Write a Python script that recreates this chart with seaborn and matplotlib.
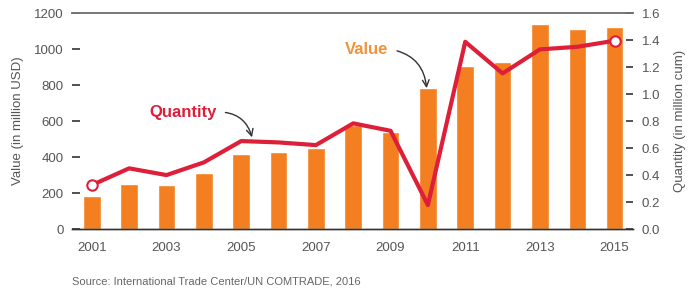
import numpy as np
import pandas as pd
import matplotlib
matplotlib.use("Agg")
import matplotlib.pyplot as plt
import seaborn as sns

years = [2001, 2002, 2003, 2004, 2005, 2006, 2007, 2008, 2009, 2010, 2011, 2012, 2013, 2014, 2015]
value_musd = [183, 250, 243, 309, 415, 430, 448, 578, 541, 785, 907, 926, 1139, 1113, 1124]
quantity_mcum = [0.326, 0.45, 0.40, 0.494, 0.652, 0.642, 0.622, 0.783, 0.728, 0.178, 1.387, 1.153, 1.331, 1.35, 1.395]
left_ticks = [0, 200, 400, 600, 800, 1000, 1200]
right_ticks = [0.0, 0.2, 0.4, 0.6, 0.8, 1.0, 1.2, 1.4, 1.6]
label_years = [2001, 2003, 2005, 2007, 2009, 2011, 2013, 2015]

sns.set_theme(style="white")
plt.rcParams['font.family'] = ['Liberation Sans', 'DejaVu Sans']

BAR = "#F47F20"
LINE = "#DD1F3A"
TXT = "#555555"

df = pd.DataFrame({"year": years, "value": value_musd, "quantity": quantity_mcum})
df["pos"] = np.arange(len(df))

fig = plt.figure(figsize=(6.99, 2.90), dpi=100)
ax = fig.add_axes([0.103, 0.210, 0.803, 0.745])

sns.barplot(data=df, x="pos", y="value", color=BAR, width=0.47, saturation=1,
            ax=ax, order=list(df["pos"]))
ax2 = ax.twinx()
sns.lineplot(data=df, x="pos", y="quantity", color=LINE, lw=3.0, ax=ax2)
ends = df.iloc[[0, -1]]
ax2.plot(ends["pos"], ends["quantity"], ls="none", marker="o", ms=7.5,
         mfc="white", mec=LINE, mew=1.5, zorder=5)

n = len(years)
ax.set_xlim(-0.53, n - 0.5)
ax.set_ylim(0, 1200)
ax2.set_ylim(0, 1.6)

ax.set_xticks([i - 0.5 for i in range(n + 1)], minor=True)
ax.set_xticks([years.index(y) for y in label_years])
ax.set_xticklabels([str(y) for y in label_years])
ax.tick_params(axis="x", which="major", length=0, pad=9, labelsize=9.5, labelcolor=TXT)
ax.tick_params(axis="x", which="minor", length=5, width=1, direction="in", color="#333333")

ax.set_yticks(left_ticks)
ax.set_yticklabels([str(v) for v in left_ticks])
ax.tick_params(axis="y", length=6, width=1.2, direction="in", color="#333333",
               labelsize=9.5, labelcolor=TXT, pad=6, left=True)
ax2.set_yticks(right_ticks)
ax2.set_yticklabels([f"{v:.1f}" for v in right_ticks])
ax2.tick_params(axis="y", length=5, width=1.2, direction="in", color="#333333",
                labelsize=9.5, labelcolor=TXT, pad=6, right=True)

for a in (ax, ax2):
    a.spines["left"].set_visible(False)
    a.spines["right"].set_visible(False)
    a.spines["top"].set_visible(True)
    a.spines["top"].set_color("#777777")
    a.spines["top"].set_linewidth(1.2)
    a.spines["bottom"].set_color("#333333")
    a.spines["bottom"].set_linewidth(1.0)
    a.grid(False)

ax.set_xlabel("")
ax.set_ylabel("Value (in million USD)", fontsize=9.5, color=TXT, labelpad=7)
ax2.set_ylabel("Quantity (in million cum)", fontsize=9.5, color=TXT, labelpad=10)

ax2.annotate("Quantity", xy=(4.3, 0.67), xytext=(2.44, 0.867), ha="center", va="center",
             fontsize=12, fontweight="bold", color=LINE,
             arrowprops=dict(arrowstyle="->", color="#333333", lw=1.0, relpos=(1, 0.5),
                             connectionstyle="arc3,rad=-0.4", shrinkA=4, shrinkB=1))
ax.annotate("Value", xy=(8.97, 775), xytext=(7.36, 1000), ha="center", va="center",
            fontsize=12, fontweight="bold", color="#F39237",
            arrowprops=dict(arrowstyle="->", color="#333333", lw=1.0, relpos=(1, 0.5),
                            connectionstyle="arc3,rad=-0.4", shrinkA=4, shrinkB=1))

fig.text(0.103, 0.045, "Source: International Trade Center/UN COMTRADE, 2016",
         fontsize=8, color="#666666", va="top", ha="left")

fig.savefig("out.png", dpi=100)
